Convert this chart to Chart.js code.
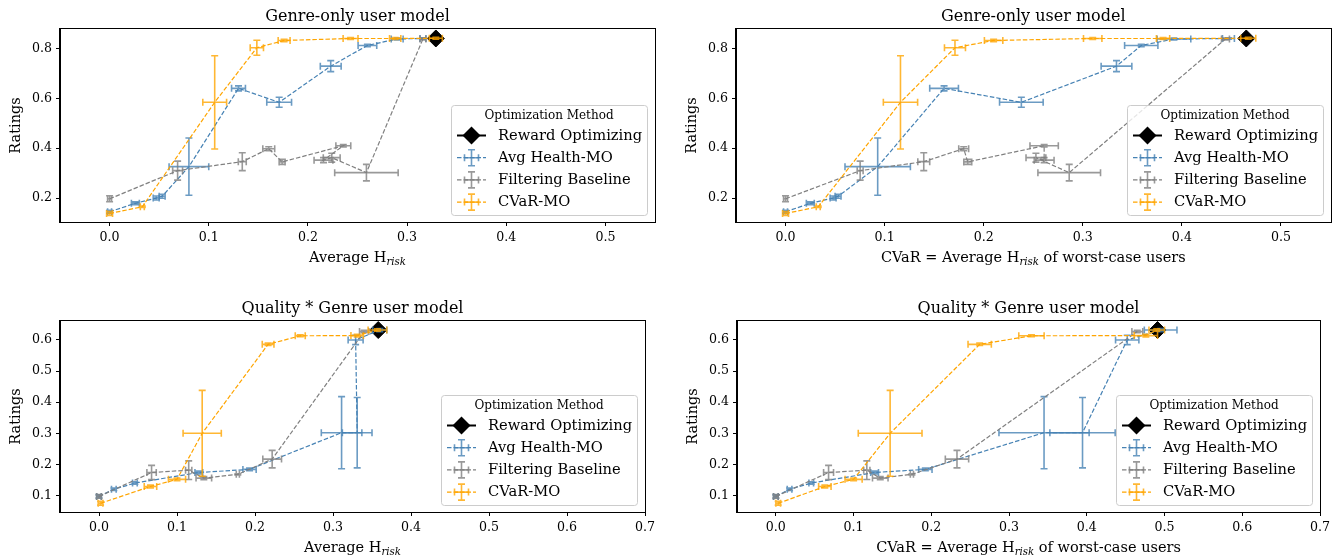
<!DOCTYPE html>
<html>
<head>
<meta charset="utf-8">
<script src="https://cdn.jsdelivr.net/npm/chart.js@4.4.1/dist/chart.umd.min.js"></script>
<style>
  html, body { margin: 0; padding: 0; background: #fff; }
  #wrap { position: relative; width: 1340px; height: 559px; }
  canvas { position: absolute; }
</style>
</head>
<body>
<div id="wrap">
  <canvas id="genreAvg" width="670" height="280" style="left:0;top:0"></canvas>
  <canvas id="genreCvar" width="670" height="280" style="left:670px;top:0"></canvas>
  <canvas id="qualityAvg" width="670" height="279" style="left:0;top:280px"></canvas>
  <canvas id="qualityCvar" width="670" height="279" style="left:670px;top:280px"></canvas>
</div>
<script>
// tick labels
const topXTicks = [0, 0.1, 0.2, 0.3, 0.4, 0.5];
const topYTicks = [0.2, 0.4, 0.6, 0.8];
const bottomXTicks = [0, 0.1, 0.2, 0.3, 0.4, 0.5, 0.6, 0.7];
const bottomYTicks = [0.1, 0.2, 0.3, 0.4, 0.5, 0.6];

const methods = ['Reward Optimizing', 'Avg Health-MO', 'Filtering Baseline', 'CVaR-MO'];

// ---- Genre-only user model (ratings are shared by both top panels) ----
const genreRewardY = [0.84];
const genreRewardHrisk = [0.329];
const genreRewardCvar = [0.465];

const genreAvgY     = [0.145, 0.179, 0.200, 0.207, 0.326, 0.640, 0.584, 0.729, 0.812, 0.838, 0.840];
const genreAvgYErr  = [0.006, 0.006, 0.008, 0.008, 0.115, 0.010, 0.020, 0.022, 0.005, 0.004, 0.003];
const genreAvgHrisk    = [0.000, 0.026, 0.047, 0.053, 0.080, 0.130, 0.171, 0.223, 0.260, 0.290, 0.316];
const genreAvgHriskErr = [0.002, 0.004, 0.003, 0.003, 0.020, 0.007, 0.0125, 0.0105, 0.0094, 0.006, 0.003];
const genreAvgCvar     = [0.000, 0.025, 0.048, 0.053, 0.093, 0.160, 0.238, 0.334, 0.359, 0.392, 0.447];
const genreAvgCvarErr  = [0.002, 0.004, 0.003, 0.003, 0.033, 0.0145, 0.022, 0.0155, 0.0168, 0.017, 0.006];

const genreFiltY     = [0.197, 0.310, 0.346, 0.398, 0.345, 0.410, 0.352, 0.362, 0.302, 0.838];
const genreFiltYErr  = [0.012, 0.038, 0.036, 0.008, 0.010, 0.005, 0.010, 0.018, 0.033, 0.004];
const genreFiltHrisk    = [0.000, 0.0686, 0.1338, 0.1605, 0.174, 0.2357, 0.2157, 0.224, 0.259, 0.316];
const genreFiltHriskErr = [0.002, 0.005, 0.004, 0.006, 0.003, 0.0075, 0.0095, 0.0085, 0.032, 0.003];
const genreFiltCvar     = [0.000, 0.0753, 0.1395, 0.1798, 0.1839, 0.261, 0.261, 0.2527, 0.2863, 0.444];
const genreFiltCvarErr  = [0.002, 0.003, 0.006, 0.005, 0.004, 0.0143, 0.010, 0.010, 0.0316, 0.004];

const genreCvarMoY     = [0.138, 0.165, 0.584, 0.803, 0.832, 0.840, 0.840, 0.841];
const genreCvarMoYErr  = [0.008, 0.003, 0.187, 0.030, 0.005, 0.004, 0.004, 0.004];
const genreCvarMoHrisk    = [0.000, 0.033, 0.106, 0.1485, 0.176, 0.243, 0.288, 0.329];
const genreCvarMoHriskErr = [0.003, 0.002, 0.012, 0.0067, 0.006, 0.0075, 0.0057, 0.0066];
const genreCvarMoCvar     = [0.000, 0.033, 0.116, 0.171, 0.210, 0.310, 0.381, 0.467];
const genreCvarMoCvarErr  = [0.003, 0.002, 0.0173, 0.0106, 0.0093, 0.0093, 0.0067, 0.0076];

// ---- Quality * Genre user model (ratings shared by both bottom panels) ----
const qualityRewardY = [0.632];
const qualityRewardHrisk = [0.358];
const qualityRewardCvar = [0.491];

const qualityAvgY     = [0.097, 0.120, 0.140, 0.174, 0.184, 0.302, 0.302, 0.600, 0.632];
const qualityAvgYErr  = [0.005, 0.004, 0.004, 0.005, 0.004, 0.116, 0.113, 0.015, 0.005];
const qualityAvgHrisk    = [0.000, 0.019, 0.046, 0.128, 0.193, 0.311, 0.331, 0.329, 0.360];
const qualityAvgHriskErr = [0.003, 0.003, 0.003, 0.005, 0.0085, 0.026, 0.019, 0.0096, 0.009];
const qualityAvgCvar     = [0.000, 0.0176, 0.0455, 0.127, 0.1923, 0.345, 0.3945, 0.452, 0.495];
const qualityAvgCvarErr  = [0.003, 0.003, 0.003, 0.005, 0.0086, 0.058, 0.042, 0.015, 0.021];

const qualityFiltY     = [0.097, 0.174, 0.1815, 0.156, 0.168, 0.217, 0.627];
const qualityFiltYErr  = [0.006, 0.023, 0.030, 0.005, 0.002, 0.028, 0.004];
const qualityFiltHrisk    = [0.000, 0.0674, 0.115, 0.1344, 0.178, 0.222, 0.340];
const qualityFiltHriskErr = [0.003, 0.006, 0.004, 0.010, 0.002, 0.012, 0.006];
const qualityFiltCvar     = [0.000, 0.0678, 0.117, 0.1343, 0.175, 0.233, 0.465];
const qualityFiltCvarErr  = [0.003, 0.0064, 0.004, 0.010, 0.002, 0.015, 0.007];

const qualityCvarMoY     = [0.075, 0.129, 0.152, 0.300, 0.586, 0.6135, 0.614, 0.632];
const qualityCvarMoYErr  = [0.006, 0.005, 0.004, 0.138, 0.004, 0.003, 0.004, 0.004];
const qualityCvarMoHrisk    = [0.002, 0.066, 0.100, 0.1323, 0.2168, 0.258, 0.331, 0.357];
const qualityCvarMoHriskErr = [0.003, 0.008, 0.011, 0.0245, 0.0075, 0.0064, 0.008, 0.012];
const qualityCvarMoCvar     = [0.003, 0.063, 0.100, 0.147, 0.2622, 0.3288, 0.476, 0.490];
const qualityCvarMoCvarErr  = [0.003, 0.008, 0.011, 0.041, 0.015, 0.0163, 0.015, 0.010];

const BLUE = '#4682b4';
const GREY = '#808080';
const ORANGE = '#ffa500';
const FONT = '"DejaVu Serif", serif';

Chart.defaults.font.family = FONT;
Chart.defaults.color = '#000';

function series(label, color, order, xs, xe, ys, ye) {
  return {
    label, order, showLine: true,
    borderColor: color, backgroundColor: color,
    borderWidth: 1.2, borderDash: [4.5, 2],
    pointRadius: 0, pointHoverRadius: 0,
    data: xs.map((x, i) => ({ x, y: ys[i] })),
    errX: xe, errY: ye
  };
}

function reward(xs, ys) {
  return {
    label: methods[0], order: 4,
    pointStyle: 'rectRot', pointRadius: 8.5, borderWidth: 1,
    borderColor: '#000', backgroundColor: '#000',
    data: xs.map((x, i) => ({ x, y: ys[i] }))
  };
}

// x / y error bars drawn through the chart scales
const errorBars = {
  id: 'errorBars',
  afterDatasetDraw(chart, args) {
    const ds = chart.data.datasets[args.index];
    if (!ds.errX) return;
    const { ctx, chartArea: a, scales: { x, y } } = chart;
    const cap = 3.5;
    ctx.save();
    ctx.beginPath();
    ctx.rect(a.left, a.top, a.width, a.height);
    ctx.clip();
    ctx.strokeStyle = ds.borderColor;
    ctx.globalAlpha = 0.8;
    ctx.lineWidth = 1.6;
    ds.data.forEach((p, i) => {
      const px = x.getPixelForValue(p.x), py = y.getPixelForValue(p.y);
      const x0 = x.getPixelForValue(p.x - ds.errX[i]), x1 = x.getPixelForValue(p.x + ds.errX[i]);
      const y0 = y.getPixelForValue(p.y - ds.errY[i]), y1 = y.getPixelForValue(p.y + ds.errY[i]);
      ctx.beginPath();
      ctx.moveTo(x0, py); ctx.lineTo(x1, py);
      ctx.moveTo(x0, py - cap); ctx.lineTo(x0, py + cap);
      ctx.moveTo(x1, py - cap); ctx.lineTo(x1, py + cap);
      ctx.moveTo(px, y0); ctx.lineTo(px, y1);
      ctx.moveTo(px - cap, y0); ctx.lineTo(px + cap, y0);
      ctx.moveTo(px - cap, y1); ctx.lineTo(px + cap, y1);
      ctx.stroke();
    });
    ctx.restore();
  }
};

// full box around the axes
const frame = {
  id: 'frame',
  afterDraw(chart) {
    const { ctx, chartArea: a } = chart;
    ctx.save();
    ctx.strokeStyle = '#000';
    ctx.lineWidth = 1;
    ctx.strokeRect(Math.round(a.left) - 0.5, Math.round(a.top) - 0.5, Math.round(a.width) + 1, Math.round(a.height) + 1);
    ctx.restore();
  }
};

// title, x label with subscript, y label
const panelText = {
  id: 'panelText',
  afterDraw(chart, args, opts) {
    const { ctx, chartArea: a } = chart;
    const cx = (a.left + a.right) / 2;
    ctx.save();
    ctx.fillStyle = '#000';
    ctx.textBaseline = 'alphabetic';
    ctx.textAlign = 'center';
    ctx.font = '16px ' + FONT;
    ctx.fillText(opts.title, cx, a.top - 8);

    const main = '14.5px ' + FONT, sub = 'italic 10.2px ' + FONT;
    ctx.font = main;
    const w1 = ctx.measureText(opts.pre).width, w3 = ctx.measureText(opts.post).width;
    ctx.font = sub;
    const w2 = ctx.measureText('risk').width;
    const x0 = cx - (w1 + w2 + w3) / 2, yb = a.bottom + 39.5;
    ctx.textAlign = 'left';
    ctx.font = main; ctx.fillText(opts.pre, x0, yb);
    ctx.font = sub; ctx.fillText('risk', x0 + w1, yb + 3);
    ctx.font = main; ctx.fillText(opts.post, x0 + w1 + w2, yb);

    ctx.translate(a.left - 44, (a.top + a.bottom) / 2);
    ctx.rotate(-Math.PI / 2);
    ctx.textAlign = 'center';
    ctx.textBaseline = 'middle';
    ctx.font = '14.5px ' + FONT;
    ctx.fillText('Ratings', 0, 0);
    ctx.restore();
  }
};

// matplotlib-like legend box in the lower right corner
const methodLegend = {
  id: 'methodLegend',
  afterDraw(chart) {
    const { ctx, chartArea: a } = chart;
    const w = 196, h = 110;
    const L = Math.round(a.right - 8 - w), T = Math.round(a.bottom - 7 - h);
    ctx.save();
    ctx.fillStyle = 'rgba(255,255,255,0.8)';
    ctx.strokeStyle = '#cccccc';
    ctx.lineWidth = 1;
    ctx.beginPath();
    ctx.roundRect(L + 0.5, T + 0.5, w, h, 3);
    ctx.fill();
    ctx.stroke();

    ctx.fillStyle = '#000';
    ctx.textBaseline = 'middle';
    ctx.textAlign = 'center';
    ctx.font = '12px ' + FONT;
    ctx.fillText('Optimization Method', L + w / 2, T + 11);

    const hx = L + 20.5;
    chart.data.datasets.forEach((ds, i) => {
      const cy = T + 30.5 + i * 22.2;
      if (i === 0) {
        ctx.strokeStyle = '#000'; ctx.lineWidth = 2; ctx.setLineDash([]);
        ctx.beginPath(); ctx.moveTo(L + 6, cy); ctx.lineTo(L + 35, cy); ctx.stroke();
        ctx.fillStyle = '#000';
        ctx.beginPath();
        ctx.moveTo(hx - 9, cy); ctx.lineTo(hx, cy - 9); ctx.lineTo(hx + 9, cy); ctx.lineTo(hx, cy + 9);
        ctx.closePath(); ctx.fill();
      } else {
        ctx.strokeStyle = ds.borderColor; ctx.lineWidth = 1.2; ctx.setLineDash([4.5, 2]);
        ctx.beginPath(); ctx.moveTo(L + 6, cy); ctx.lineTo(L + 35, cy); ctx.stroke();
        ctx.setLineDash([]); ctx.globalAlpha = 0.8; ctx.lineWidth = 1.6;
        ctx.beginPath();
        ctx.moveTo(hx - 7, cy); ctx.lineTo(hx + 7, cy);
        ctx.moveTo(hx - 7, cy - 3.5); ctx.lineTo(hx - 7, cy + 3.5);
        ctx.moveTo(hx + 7, cy - 3.5); ctx.lineTo(hx + 7, cy + 3.5);
        ctx.moveTo(hx, cy - 8); ctx.lineTo(hx, cy + 8);
        ctx.moveTo(hx - 3.5, cy - 8); ctx.lineTo(hx + 3.5, cy - 8);
        ctx.moveTo(hx - 3.5, cy + 8); ctx.lineTo(hx + 3.5, cy + 8);
        ctx.stroke();
        ctx.globalAlpha = 1;
      }
      ctx.fillStyle = '#000';
      ctx.textAlign = 'left';
      ctx.font = '14.7px ' + FONT;
      ctx.fillText(ds.label, L + 47, cy + 0.5);
    });
    ctx.restore();
  }
};

function axis(min, max, ticks, fit) {
  return {
    type: 'linear', min, max,
    afterBuildTicks: s => { s.ticks = ticks.map(v => ({ value: v })); },
    afterFit: fit,
    ticks: { font: { size: 12.6 }, color: '#000', padding: 4, callback: v => v.toFixed(1) },
    grid: { drawOnChartArea: false, drawTicks: true, tickLength: 4, color: '#000' },
    border: { display: true, color: '#000', width: 1 }
  };
}

function panel(id, p) {
  return new Chart(document.getElementById(id), {
    type: 'scatter',
    data: { datasets: p.datasets },
    options: {
      responsive: false, animation: false, events: [],
      layout: { padding: { left: 0, top: p.top, right: p.right, bottom: 0 } },
      plugins: {
        legend: { display: false }, tooltip: { enabled: false },
        panelText: { title: p.title, pre: p.pre, post: p.post }
      },
      scales: {
        x: axis(p.xMin, p.xMax, p.xTicks, s => { s.height = p.xHeight; }),
        y: axis(p.yMin, p.yMax, p.yTicks, s => { s.width = p.yWidth; })
      }
    },
    plugins: [errorBars, frame, panelText, methodLegend]
  });
}

panel('genreAvg', {
  title: 'Genre-only user model', pre: 'Average H', post: '',
  top: 29, right: 15, xHeight: 58, yWidth: 60,
  xMin: -0.05, xMax: 0.55, xTicks: topXTicks, yMin: 0.104, yMax: 0.878, yTicks: topYTicks,
  datasets: [
    reward(genreRewardHrisk, genreRewardY),
    series(methods[1], BLUE, 3, genreAvgHrisk, genreAvgHriskErr, genreAvgY, genreAvgYErr),
    series(methods[2], GREY, 2, genreFiltHrisk, genreFiltHriskErr, genreFiltY, genreFiltYErr),
    series(methods[3], ORANGE, 1, genreCvarMoHrisk, genreCvarMoHriskErr, genreCvarMoY, genreCvarMoYErr)
  ]
});

panel('genreCvar', {
  title: 'Genre-only user model', pre: 'CVaR = Average H', post: ' of worst-case users',
  top: 29, right: 9, xHeight: 58, yWidth: 66,
  xMin: -0.05, xMax: 0.55, xTicks: topXTicks, yMin: 0.104, yMax: 0.878, yTicks: topYTicks,
  datasets: [
    reward(genreRewardCvar, genreRewardY),
    series(methods[1], BLUE, 3, genreAvgCvar, genreAvgCvarErr, genreAvgY, genreAvgYErr),
    series(methods[2], GREY, 2, genreFiltCvar, genreFiltCvarErr, genreFiltY, genreFiltYErr),
    series(methods[3], ORANGE, 1, genreCvarMoCvar, genreCvarMoCvarErr, genreCvarMoY, genreCvarMoYErr)
  ]
});

panel('qualityAvg', {
  title: 'Quality * Genre user model', pre: 'Average H', post: '',
  top: 41, right: 25, xHeight: 47, yWidth: 60,
  xMin: -0.05, xMax: 0.7, xTicks: bottomXTicks, yMin: 0.047, yMax: 0.661, yTicks: bottomYTicks,
  datasets: [
    reward(qualityRewardHrisk, qualityRewardY),
    series(methods[1], BLUE, 3, qualityAvgHrisk, qualityAvgHriskErr, qualityAvgY, qualityAvgYErr),
    series(methods[2], GREY, 2, qualityFiltHrisk, qualityFiltHriskErr, qualityFiltY, qualityFiltYErr),
    series(methods[3], ORANGE, 1, qualityCvarMoHrisk, qualityCvarMoHriskErr, qualityCvarMoY, qualityCvarMoYErr)
  ]
});

panel('qualityCvar', {
  title: 'Quality * Genre user model', pre: 'CVaR = Average H', post: ' of worst-case users',
  top: 41, right: 20, xHeight: 47, yWidth: 67,
  xMin: -0.05, xMax: 0.7, xTicks: bottomXTicks, yMin: 0.047, yMax: 0.661, yTicks: bottomYTicks,
  datasets: [
    reward(qualityRewardCvar, qualityRewardY),
    series(methods[1], BLUE, 3, qualityAvgCvar, qualityAvgCvarErr, qualityAvgY, qualityAvgYErr),
    series(methods[2], GREY, 2, qualityFiltCvar, qualityFiltCvarErr, qualityFiltY, qualityFiltYErr),
    series(methods[3], ORANGE, 1, qualityCvarMoCvar, qualityCvarMoCvarErr, qualityCvarMoY, qualityCvarMoYErr)
  ]
});
</script>
</body>
</html>
